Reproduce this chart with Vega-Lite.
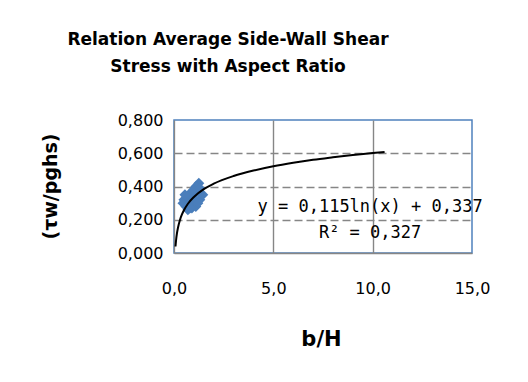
{
  "$schema": "https://vega.github.io/schema/vega-lite/v6.json",
  "autosize": "none",
  "width": 298,
  "height": 133,
  "padding": {"left": 174, "top": 120, "right": 56, "bottom": 129},
  "background": "white",
  "config": {
    "locale": {"number": {"decimal": ",", "thousands": ".", "grouping": [3], "currency": ["", " €"]}},
    "view": {"stroke": "#4f81bd", "strokeWidth": 1.5},
    "font": "DejaVu Sans"
  },
  "title": {
    "text": ["Relation Average Side-Wall Shear", "Stress  with Aspect Ratio"],
    "font": "DejaVu Sans",
    "fontSize": 17,
    "fontWeight": "bold",
    "color": "#000000",
    "anchor": "middle",
    "frame": "group",
    "dx": -95,
    "offset": 36,
    "lineHeight": 27
  },
  "datasets": {
    "pts": [
      {"x": 1.25, "y": 0.42}, {"x": 1.1, "y": 0.40}, {"x": 0.9, "y": 0.37}, {"x": 0.7, "y": 0.34},
      {"x": 0.5, "y": 0.32}, {"x": 0.45, "y": 0.30}, {"x": 0.6, "y": 0.28}, {"x": 0.7, "y": 0.26},
      {"x": 0.9, "y": 0.27}, {"x": 1.1, "y": 0.28}, {"x": 1.3, "y": 0.32}, {"x": 1.45, "y": 0.35},
      {"x": 1.0, "y": 0.33}, {"x": 0.8, "y": 0.30}, {"x": 1.2, "y": 0.37}, {"x": 0.55, "y": 0.35},
      {"x": 1.0, "y": 0.38}, {"x": 1.3, "y": 0.39}, {"x": 0.8, "y": 0.27}, {"x": 1.2, "y": 0.30}
    ],
    "trend": [
      {"x": 0.075, "y": 0.039}, {"x": 0.1, "y": 0.072}, {"x": 0.15, "y": 0.119}, {"x": 0.2, "y": 0.152},
      {"x": 0.3, "y": 0.199}, {"x": 0.4, "y": 0.232}, {"x": 0.5, "y": 0.257}, {"x": 0.7, "y": 0.296},
      {"x": 1, "y": 0.337}, {"x": 1.5, "y": 0.384}, {"x": 2, "y": 0.417}, {"x": 3, "y": 0.463},
      {"x": 4, "y": 0.496}, {"x": 5, "y": 0.522}, {"x": 6, "y": 0.543}, {"x": 7, "y": 0.561},
      {"x": 8, "y": 0.576}, {"x": 9, "y": 0.590}, {"x": 10, "y": 0.602}, {"x": 10.6, "y": 0.608}
    ],
    "eq": [
      {"x": 9.87, "y": 0.247, "label": "y = 0,115ln(x) + 0,337"},
      {"x": 9.87, "y": 0.090, "label": "R² = 0,327"}
    ]
  },
  "layer": [
    {
      "data": {"name": "pts"},
      "mark": {"type": "point", "shape": "diamond", "filled": true, "size": 120, "color": "#4a7ebb", "opacity": 1},
      "encoding": {
        "x": {
          "field": "x", "type": "quantitative",
          "scale": {"domain": [0, 15], "nice": false},
          "axis": {
            "values": [0, 5, 10, 15], "tickCount": 10, "format": ".1f", "title": "b/H",
            "grid": true, "gridColor": "#868686", "gridWidth": 1.4,
            "gridOpacity": {"condition": {"test": "datum.value === 0 || datum.value === 15", "value": 0}, "value": 1},
            "domainColor": "#868686", "domainWidth": 1.3, "ticks": false,
            "labelFont": "DejaVu Sans", "labelFontSize": 16, "labelColor": "#000000", "labelPadding": 27,
            "labelFlush": false, "labelOverlap": false,
            "titleFont": "DejaVu Sans", "titleFontSize": 21, "titleFontWeight": "bold", "titleColor": "#000000",
            "titleX": 147, "titleY": 86, "titleBaseline": "middle", "titleAlign": "center"
          }
        },
        "y": {
          "field": "y", "type": "quantitative",
          "scale": {"domain": [0, 0.8], "nice": false},
          "axis": {
            "values": [0, 0.2, 0.4, 0.6, 0.8], "tickCount": 10, "format": ".3f", "title": "(τw/pghs)",
            "grid": true, "gridColor": "#868686", "gridDash": [8, 4], "gridWidth": 1.4,
            "gridOpacity": {"condition": {"test": "datum.value === 0 || datum.value === 0.8", "value": 0}, "value": 1},
            "domainColor": "#868686", "domainWidth": 1.3, "ticks": false,
            "labelFont": "DejaVu Sans", "labelFontSize": 16, "labelColor": "#000000", "labelPadding": 11,
            "labelFlush": false, "labelOverlap": false,
            "titleFont": "DejaVu Sans", "titleFontSize": 19, "titleFontWeight": "bold", "titleColor": "#000000",
            "titleX": -124, "titleY": 66, "titleBaseline": "middle", "titleAlign": "center", "titleAngle": -90
          }
        }
      }
    },
    {
      "data": {"name": "trend"},
      "mark": {"type": "line", "color": "#000000", "strokeWidth": 2, "interpolate": "monotone"},
      "encoding": {
        "x": {"field": "x", "type": "quantitative"},
        "y": {"field": "y", "type": "quantitative"}
      }
    },
    {
      "data": {"name": "eq"},
      "mark": {"type": "text", "font": "DejaVu Sans Mono", "fontSize": 17, "color": "#000000", "align": "center", "baseline": "alphabetic"},
      "encoding": {
        "x": {"field": "x", "type": "quantitative"},
        "y": {"field": "y", "type": "quantitative"},
        "text": {"field": "label"}
      }
    }
  ]
}
